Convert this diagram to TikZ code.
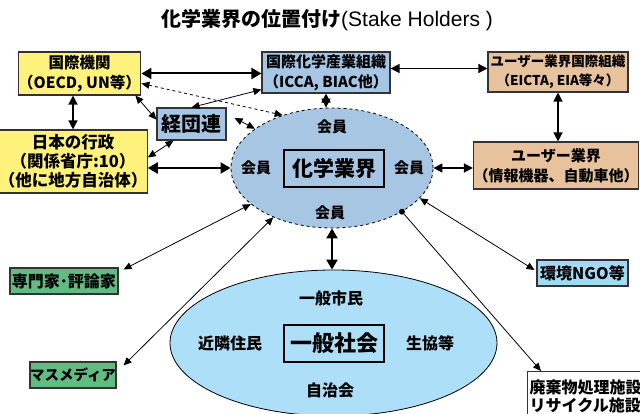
\documentclass[tikz,border=0pt]{standalone}
\usepackage{fontspec}
\setmainfont{Noto Sans CJK JP}
\newfontfamily\lat{Liberation Sans}
\usetikzlibrary{shapes.geometric,arrows.meta,calc}
\definecolor{yel}{HTML}{FFF27C}
\definecolor{bluebox}{HTML}{A6C6E6}
\definecolor{tan}{HTML}{E8C29C}
\definecolor{grn}{HTML}{62BC82}
\definecolor{ngob}{HTML}{A2DAF6}
\definecolor{chemb}{HTML}{A7C6E4}
\definecolor{socb}{HTML}{AEDFF8}
\newcommand{\fs}[2]{\fontsize{#1}{#2}\selectfont}
\begin{document}
\begin{tikzpicture}[x=1pt,y=-1pt,
 box/.style={draw=black!80,line width=1.1pt,inner sep=0pt,align=center,font=\bfseries},
 thinarr/.style={{Triangle[length=8pt,width=7pt]}-{Triangle[length=8pt,width=7pt]}, line width=0.8pt},
 medarr/.style={{Triangle[length=9pt,width=9pt]}-{Triangle[length=9pt,width=9pt]}, line width=1.3pt},
 thickarr/.style={{Triangle[length=10pt,width=11pt]}-{Triangle[length=10pt,width=11pt]}, line width=2pt},
 lbl/.style={inner sep=0pt,font=\bfseries\fs{15}{15}},
 inbox/.style={draw=black,line width=2.6pt,inner sep=0pt,minimum width=100pt,minimum height=37pt}
]
\useasboundingbox (0,0) rectangle (640,414);

% title
\node[anchor=west,inner sep=0pt] (title) at (161,20) {\bfseries\fs{20}{20}化学業界の位置付け\lat\mdseries\fs{21}{21}(Stake Holders )};

% ellipses
\node[ellipse,draw,fill=socb,line width=0.8pt,minimum width=327pt,minimum height=146pt,inner sep=0pt] (soc) at (333.5,343) {};
\node[ellipse,draw,dashed,fill=chemb,line width=0.8pt,minimum width=202pt,minimum height=120pt,inner sep=0pt] (chem) at (332,168) {};

\node[inbox,font=\bfseries\fs{21}{21}] (chembox) at (334,168.5) {化学業界};
\node[lbl] (m1) at (332,127) {会員};
\node[lbl] (m2) at (256,168) {会員};
\node[lbl] (m3) at (409,168) {会員};
\node[lbl] (m4) at (330,213) {会員};

\node[inbox,font=\bfseries\fs{22}{22}] (socbox) at (334,343.5) {一般社会};
\node[lbl,font=\bfseries\fs{16}{16}] (s1) at (331,298) {一般市民};
\node[lbl,font=\bfseries\fs{16}{16}] (s2) at (230,343) {近隣住民};
\node[lbl,font=\bfseries\fs{16}{16}] (s3) at (430,343) {生協等};
\node[lbl,font=\bfseries\fs{16}{16}] (s4) at (330,390) {自治会};

% boxes
\node[box,fill=yel,minimum width=115pt,minimum height=43pt,font=\bfseries\fs{15.5}{19.5}] (kokusai) at (79.5,73.5) {国際機関\\（OECD, UN等）};
\node[box,fill=bluebox,minimum width=128pt,minimum height=41pt,font=\bfseries\fs{15}{19.5}] (icca) at (326,72.5) {国際化学産業組織\\（ICCA, BIAC他）};
\node[box,fill=tan,minimum width=140pt,minimum height=40pt,font=\bfseries\fs{13.5}{19}] (uintl) at (558,72) {ユーザー業界国際組織\\（EICTA, EIA等々）};
\node[box,fill=bluebox,minimum width=69pt,minimum height=32pt,font=\bfseries\fs{20}{20}] (keidanren) at (191.5,124) {経団連};
\node[box,fill=yel,minimum width=126pt,minimum height=63pt,font=\bfseries\fs{16.5}{19}] (gyosei) at (73,161.5) {日本の行政\\（関係省庁:10）\\（他に地方自治体）};
\node[box,fill=tan,minimum width=152pt,minimum height=47pt,font=\bfseries\fs{15}{20}] (user) at (556,165.5) {ユーザー業界\\（情報機器、自動車他）};
\node[box,fill=grn,minimum width=108pt,minimum height=26pt,font=\bfseries\fs{16}{16}] (senmon) at (64,281) {専門家･評論家};
\node[box,fill=grn,minimum width=86pt,minimum height=26pt,font=\bfseries\fs{14.5}{15}] (mass) at (73,375) {マスメディア};
\node[box,fill=ngob,minimum width=91pt,minimum height=26pt,font=\bfseries\fs{16}{16}] (ngo) at (582.5,273) {環境NGO等};
\node[box,fill=white,anchor=north west,align=left,inner sep=2pt,minimum height=50pt,text width=125pt,font=\bfseries\fs{16}{18}] (waste) at (527,371) {廃棄物処理施設\\リサイクル施設};

% connectors
\draw[thickarr] (kokusai.east) -- (kokusai.east -| icca.west);
\draw[medarr] ([yshift=4pt]icca.east) -- ([yshift=4pt]icca.east -| uintl.west);
\draw[medarr] (uintl.south) -- (uintl.south |- user.north);
\draw[medarr] (icca.south) -- (icca.south |- chem.north);
\draw[medarr] (gyosei.north |- kokusai.south) -- (gyosei.north);
\draw[thinarr] ([xshift=-6pt]kokusai.south east) -- (keidanren.173);
\draw[thinarr] (keidanren.north) -- ([yshift=4pt]icca.south west);
\draw[thinarr,dashed] ([yshift=-10pt]kokusai.east) -- (chem.133);
\draw[thinarr] ([xshift=8pt,yshift=6pt]keidanren.east) -- (chem.153);
\draw[thinarr] ([yshift=4pt]gyosei.east) -- ([xshift=-18pt]keidanren.south);
\draw[thickarr] (gyosei.east |- chem.west) -- (chem.west);
\draw[medarr] (chem.east) -- (chem.east -| user.west);
\draw[thinarr] ($(senmon.north east)+(5,2)$) -- (chem.204);
\draw[thinarr] ($(mass.north east)+(7,4)$) -- (chem.220);
\draw[thinarr] (chem.341) -- ($(ngo.west)+(-2,-3)$);
\fill (chem.328) circle (3pt);
\draw[line width=0.8pt,-{Triangle[length=8pt,width=7pt]}] (chem.328) -- ([xshift=14pt]waste.north west);
\draw[thickarr] (chem.south) -- (chem.south |- soc.north);
\end{tikzpicture}
\end{document}
